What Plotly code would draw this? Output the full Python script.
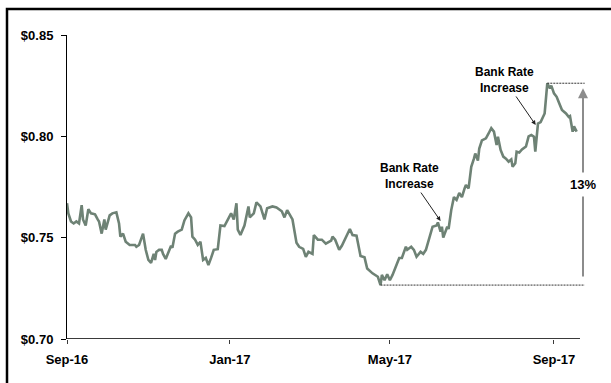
import plotly.graph_objects as go

# ---------------- data ----------------
dates = [
    "2016-09-01", "2016-09-02", "2016-09-04", "2016-09-06", "2016-09-08", "2016-09-10", "2016-09-12",
    "2016-09-13", "2016-09-15", "2016-09-17", "2016-09-19", "2016-09-22", "2016-09-24", "2016-09-25",
    "2016-09-27", "2016-09-29", "2016-09-30", "2016-10-03", "2016-10-05", "2016-10-08", "2016-10-10",
    "2016-10-11", "2016-10-13", "2016-10-15", "2016-10-18", "2016-10-22", "2016-10-23", "2016-10-25",
    "2016-10-28", "2016-10-30", "2016-11-01", "2016-11-03", "2016-11-05", "2016-11-06", "2016-11-07",
    "2016-11-09", "2016-11-11", "2016-11-12", "2016-11-14", "2016-11-16", "2016-11-18", "2016-11-19",
    "2016-11-21", "2016-11-23", "2016-11-26", "2016-11-28", "2016-12-01", "2016-12-03", "2016-12-04",
    "2016-12-06", "2016-12-08", "2016-12-10", "2016-12-12", "2016-12-14", "2016-12-16", "2016-12-18",
    "2016-12-20", "2016-12-23", "2016-12-25", "2016-12-28", "2016-12-30", "2017-01-02", "2017-01-04",
    "2017-01-06", "2017-01-07", "2017-01-09", "2017-01-12", "2017-01-15", "2017-01-16", "2017-01-19",
    "2017-01-21", "2017-01-24", "2017-01-27", "2017-01-29", "2017-02-02", "2017-02-05", "2017-02-09",
    "2017-02-11", "2017-02-13", "2017-02-17", "2017-02-20", "2017-02-22", "2017-02-25", "2017-02-27",
    "2017-03-01", "2017-03-04", "2017-03-05", "2017-03-08", "2017-03-11", "2017-03-14", "2017-03-18",
    "2017-03-19", "2017-03-21", "2017-03-24", "2017-03-26", "2017-03-28", "2017-03-30", "2017-04-01",
    "2017-04-03", "2017-04-06", "2017-04-09", "2017-04-12", "2017-04-14", "2017-04-18", "2017-04-22",
    "2017-04-24", "2017-04-25", "2017-04-27", "2017-04-29", "2017-05-01", "2017-05-03", "2017-05-06",
    "2017-05-08", "2017-05-10", "2017-05-13", "2017-05-14", "2017-05-17", "2017-05-19", "2017-05-21",
    "2017-05-24", "2017-05-26", "2017-05-28", "2017-05-31", "2017-06-02", "2017-06-05", "2017-06-06",
    "2017-06-08", "2017-06-09", "2017-06-10", "2017-06-12", "2017-06-13", "2017-06-14", "2017-06-16",
    "2017-06-18", "2017-06-20", "2017-06-22", "2017-06-24", "2017-06-26", "2017-06-27", "2017-06-29",
    "2017-07-01", "2017-07-03", "2017-07-04", "2017-07-06", "2017-07-07", "2017-07-09", "2017-07-12",
    "2017-07-14", "2017-07-16", "2017-07-18", "2017-07-20", "2017-07-21", "2017-07-23", "2017-07-25",
    "2017-07-27", "2017-07-29", "2017-07-31", "2017-08-01", "2017-08-03", "2017-08-04", "2017-08-06",
    "2017-08-08", "2017-08-11", "2017-08-13", "2017-08-15", "2017-08-17", "2017-08-18", "2017-08-20",
    "2017-08-22", "2017-08-25", "2017-08-26", "2017-08-27", "2017-08-29", "2017-08-30", "2017-09-01",
    "2017-09-03", "2017-09-05", "2017-09-07", "2017-09-10", "2017-09-12", "2017-09-13", "2017-09-15",
    "2017-09-16", "2017-09-18",
]
rates = [
    0.767, 0.762, 0.758, 0.757, 0.758, 0.757, 0.766,
    0.759, 0.756, 0.764, 0.762, 0.7615, 0.759, 0.758,
    0.752, 0.759, 0.754, 0.761, 0.762, 0.7625, 0.757,
    0.7505, 0.752, 0.748, 0.7464, 0.7464, 0.7455, 0.7464,
    0.752, 0.744, 0.739, 0.7376, 0.742, 0.739, 0.743,
    0.744, 0.744, 0.742, 0.7395, 0.743, 0.746, 0.745,
    0.752, 0.753, 0.754, 0.7585, 0.762, 0.760, 0.7505,
    0.749, 0.7464, 0.748, 0.739, 0.740, 0.7365, 0.740,
    0.744, 0.7443, 0.756, 0.7557, 0.758, 0.762, 0.759,
    0.767, 0.754, 0.7513, 0.756, 0.7654, 0.760, 0.762,
    0.7674, 0.7654, 0.759, 0.7645, 0.7654, 0.7649, 0.763,
    0.760, 0.7636, 0.759, 0.7475, 0.7455, 0.7445, 0.7405,
    0.743, 0.742, 0.7513, 0.749, 0.749, 0.747, 0.7485,
    0.7505, 0.749, 0.744, 0.746, 0.749, 0.7513, 0.7543,
    0.7513, 0.751, 0.741, 0.7403, 0.7348, 0.7324, 0.7307,
    0.7266, 0.7316, 0.729, 0.732, 0.729, 0.7316, 0.7365,
    0.740, 0.740, 0.7455, 0.744, 0.7455, 0.744, 0.7406,
    0.743, 0.742, 0.744, 0.7513, 0.7554, 0.756, 0.7575,
    0.753, 0.7554, 0.750, 0.754, 0.7554, 0.7543, 0.7636,
    0.770, 0.7686, 0.772, 0.770, 0.7743, 0.776, 0.7743,
    0.785, 0.789, 0.7915, 0.788, 0.794, 0.798, 0.799,
    0.8014, 0.804, 0.8023, 0.7957, 0.7998, 0.7933, 0.790,
    0.789, 0.7875, 0.7886, 0.785, 0.7867, 0.7924, 0.792,
    0.7935, 0.795, 0.800, 0.8007, 0.7998, 0.7924, 0.8063,
    0.807, 0.8113, 0.8212, 0.8262, 0.8236, 0.825, 0.8212,
    0.8195, 0.8162, 0.813, 0.8113, 0.8096, 0.810, 0.8023,
    0.805, 0.8023,
]

y_tick_vals = [0.70, 0.75, 0.80, 0.85]
y_tick_text = ["$0.70", "$0.75", "$0.80", "$0.85"]
x_tick_vals = ["2016-09-01", "2017-01-01", "2017-05-01", "2017-09-01"]
x_tick_text = ["Sep-16", "Jan-17", "May-17", "Sep-17"]

event_label = "Bank Rate<br>Increase"
event_points = [("2017-06-08", 0.7582), ("2017-08-18 07:00", 0.8056)]
change_label = "13%"

# ---------------- styling ----------------
LINE_COLOR = "#6e8275"
FONT = "Liberation Sans, Arial, sans-serif"
X_RANGE = ["2016-09-01", "2017-09-28"]
AXIS_END = "2017-09-20 12:00"
GUIDE_END = "2017-09-24"
ARROW_X = "2017-09-22 18:00"

i_min = rates.index(min(rates))
i_max = rates.index(max(rates))

fig = go.Figure()
fig.add_trace(go.Scatter(
    x=dates, y=rates, mode="lines",
    line=dict(color=LINE_COLOR, width=2.6),
    hoverinfo="skip", showlegend=False,
))

shapes = [
    # x-axis line (ends before the plot edge as in the original)
    dict(type="line", xref="x", yref="y", x0=X_RANGE[0], x1=AXIS_END,
         y0=y_tick_vals[0], y1=y_tick_vals[0], line=dict(color="#3a3a3a", width=2)),
    # dotted guides at min and max
    dict(type="line", xref="x", yref="y", x0=dates[i_min], x1=GUIDE_END,
         y0=rates[i_min], y1=rates[i_min], line=dict(color="#333", width=1, dash="2px,1px")),
    dict(type="line", xref="x", yref="y", x0=dates[i_max], x1=GUIDE_END,
         y0=rates[i_max], y1=rates[i_max], line=dict(color="#333", width=1, dash="2px,1px")),
    # outer frame (only left and top edges are inside the picture)
    dict(type="rect", xref="paper", yref="paper",
         x0=(7 - 67) / 523, x1=(640 - 67) / 523, y0=-(400 - 339) / 304, y1=(339 - 9) / 304,
         line=dict(color="black", width=2.5), fillcolor="rgba(0,0,0,0)", layer="above"),
]

annotations = []
for ex, ey in event_points:
    annotations.append(dict(
        x=ex, y=ey, xref="x", yref="y", text=event_label, showarrow=True,
        ax=-31, ay=-45, arrowhead=2, arrowsize=0.9, arrowwidth=1, arrowcolor="#222",
        font=dict(family=FONT, size=12, color="black", weight="bold"),
        align="center",
    ))
# vertical change arrow
annotations.append(dict(
    x=ARROW_X, y=rates[i_max], xref="x", yref="y",
    ax=ARROW_X, ay=rates[i_min], axref="x", ayref="y",
    text="", showarrow=True, arrowhead=2, arrowsize=1, arrowwidth=2,
    arrowcolor="#8c8c8c", standoff=5, startstandoff=7,
))
annotations.append(dict(
    x=ARROW_X, y=(rates[i_max] + rates[i_min]) / 2, xref="x", yref="y",
    text=change_label, showarrow=False, bgcolor="white", borderpad=4,
    font=dict(family=FONT, size=13, color="black", weight="bold"),
))

fig.update_layout(
    width=611, height=383, autosize=False,
    margin=dict(l=67, r=21, t=35, b=44, pad=0),
    paper_bgcolor="white", plot_bgcolor="white",
    shapes=shapes, annotations=annotations,
    font=dict(family=FONT, size=13, color="black", weight="bold"),
    xaxis=dict(
        type="date", range=X_RANGE, showgrid=False, zeroline=False, showline=False,
        tickmode="array", tickvals=x_tick_vals, ticktext=x_tick_text,
        ticks="outside", ticklen=4, tickwidth=1, tickcolor="#3a3a3a",
        ticklabelstandoff=4,
        tickfont=dict(family=FONT, size=13, color="black", weight="bold"),
    ),
    yaxis=dict(
        range=[0.70, 0.85], showgrid=False, zeroline=False,
        showline=True, linecolor="black", linewidth=1,
        tickmode="array", tickvals=y_tick_vals, ticktext=y_tick_text,
        ticks="outside", ticklen=5, tickwidth=1, tickcolor="black",
        ticklabelstandoff=5,
        tickfont=dict(family=FONT, size=13, color="black", weight="bold"),
    ),
)

fig.write_html(
    "out.html",
    config={"displayModeBar": False},
    post_script="document.body.style.margin='0';document.body.style.overflow='hidden';",
)
